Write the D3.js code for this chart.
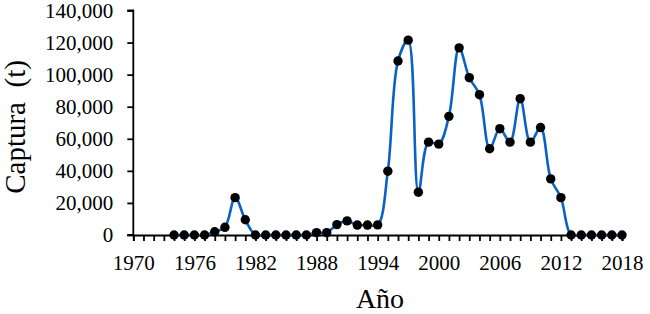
<!DOCTYPE html>
<html>
<head>
<meta charset="utf-8">
<script src="https://cdn.jsdelivr.net/npm/d3@7"></script>
<style>
  html, body { margin: 0; padding: 0; background: #fff; }
  svg { display: block; }
</style>
</head>
<body>
<svg id="chart" width="650" height="314"></svg>
<script>
const years = [1974,1975,1976,1977,1978,1979,1980,1981,1982,1983,1984,1985,1986,1987,1988,1989,1990,1991,1992,1993,1994,1995,1996,1997,1998,1999,2000,2001,2002,2003,2004,2005,2006,2007,2008,2009,2010,2011,2012,2013,2014,2015,2016,2017,2018];
const captura = [0,0,0,0,2000,4800,23300,9500,0,0,0,0,0,0,1500,1500,6500,8800,6200,6200,6300,39800,108500,121500,26700,57900,56700,74000,116700,98100,87500,53800,66300,57900,85000,57900,67000,35000,23300,0,0,0,0,0,0];
const xTicks = [1970,1976,1982,1988,1994,2000,2006,2012,2018];
const yTicks = [0,20000,40000,60000,80000,100000,120000,140000];

const svg = d3.select("#chart");
const m = {left: 133.3, right: 28, top: 10.5, bottom: 79};
const W = 650, H = 314;

const x = d3.scaleLinear().domain([1970, 2018]).range([m.left, W - m.right]);
const y = d3.scaleLinear().domain([0, 140000]).range([H - m.bottom, m.top]);

const font = "'Liberation Serif', 'Times New Roman', serif";

// X axis (minor ticks every year, labels every 6)
const xAxisMinor = d3.axisBottom(x).tickValues(d3.range(1970, 2019)).tickSize(6).tickFormat("");
const gxm = svg.append("g").attr("transform", `translate(0,${y(0)})`).call(xAxisMinor);
gxm.select(".domain").attr("stroke", "#000").attr("stroke-width", 1.8);
gxm.selectAll(".tick line").attr("stroke", "#000").attr("stroke-width", 1.8);

const xAxis = d3.axisBottom(x).tickValues(xTicks).tickSize(0).tickPadding(20).tickFormat(d3.format("d"));
const gx = svg.append("g").attr("transform", `translate(0,${y(0)})`).call(xAxis);
gx.attr("font-family", font);
gx.select(".domain").remove();
gx.selectAll("text").attr("font-family", font).attr("font-size", 21).attr("fill", "#000");

// Y axis
const yAxis = d3.axisLeft(y).tickValues(yTicks).tickSize(6).tickPadding(14).tickFormat(d3.format(","));
const gy = svg.append("g").attr("transform", `translate(${m.left},0)`).call(yAxis);
gy.attr("font-family", font);
gy.select(".domain").attr("stroke", "#000").attr("stroke-width", 1.8).attr("d", `M-6,${y(140000)}H0V${y(0)}H-6`);
gy.selectAll(".tick line").attr("stroke", "#000").attr("stroke-width", 1.8);
gy.selectAll("text").attr("font-family", font).attr("font-size", 21).attr("fill", "#000");

// Line
const data = years.map((yr, i) => ({yr, v: captura[i]}));
const line = d3.line().x(d => x(d.yr)).y(d => y(d.v)).curve(d3.curveCatmullRom.alpha(0.5));
svg.append("path").datum(data)
  .attr("d", line)
  .attr("fill", "none")
  .attr("stroke", "#0a62c4")
  .attr("stroke-width", 2.6);

// Markers
svg.append("g").selectAll("circle").data(data).join("circle")
  .attr("cx", d => x(d.yr))
  .attr("cy", d => y(d.v))
  .attr("r", 4.7)
  .attr("fill", "#000");

// Titles
svg.append("text")
  .attr("transform", `translate(25,127) rotate(-90)`)
  .attr("text-anchor", "middle")
  .attr("font-family", font)
  .attr("font-size", 29)
  .attr("fill", "#000")
  .style("white-space", "pre")
  .text("Captura  (t)");

svg.append("text")
  .attr("x", 380)
  .attr("y", 308)
  .attr("text-anchor", "middle")
  .attr("font-family", font)
  .attr("font-size", 28)
  .attr("fill", "#000")
  .text("Año");
</script>
</body>
</html>
